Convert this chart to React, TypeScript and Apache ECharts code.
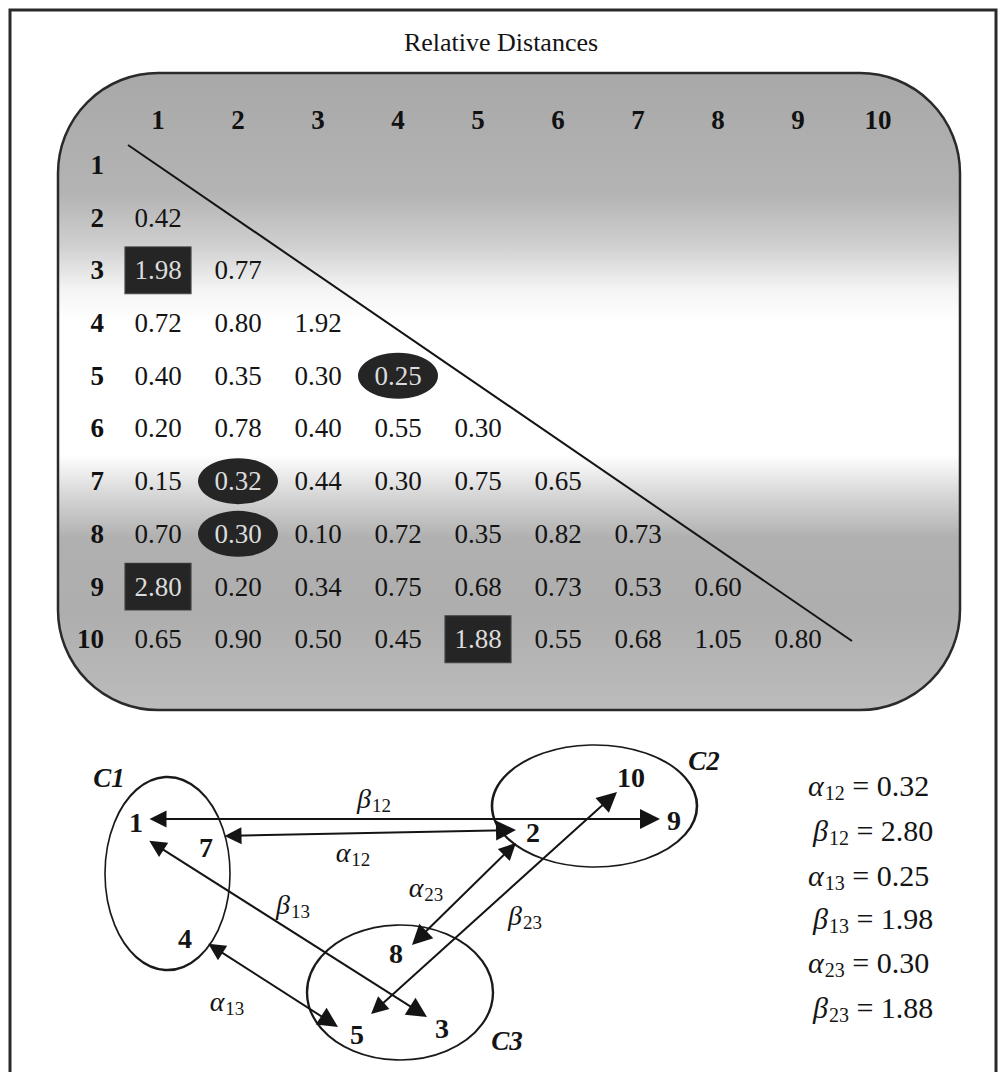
import { useEffect, useRef } from 'react';
import * as echarts from 'echarts';

const SERIF = '"Liberation Serif", "Times New Roman", serif';
const INK = '#141414';

// ---------- matrix data ----------
const colCats = ['1', '2', '3', '4', '5', '6', '7', '8', '9', '10'];
const rowCats = ['1', '2', '3', '4', '5', '6', '7', '8', '9', '10'];
// lower-triangular relative distances, row i holds columns 1..i-1
const distRow2 = [0.42];
const distRow3 = [1.98, 0.77];
const distRow4 = [0.72, 0.8, 1.92];
const distRow5 = [0.4, 0.35, 0.3, 0.25];
const distRow6 = [0.2, 0.78, 0.4, 0.55, 0.3];
const distRow7 = [0.15, 0.32, 0.44, 0.3, 0.75, 0.65];
const distRow8 = [0.7, 0.3, 0.1, 0.72, 0.35, 0.82, 0.73];
const distRow9 = [2.8, 0.2, 0.34, 0.75, 0.68, 0.73, 0.53, 0.6];
const distRow10 = [0.65, 0.9, 0.5, 0.45, 1.88, 0.55, 0.68, 1.05, 0.8];
const distRows = [[], distRow2, distRow3, distRow4, distRow5, distRow6, distRow7, distRow8, distRow9, distRow10];
// highlighted cells [row, col]
const rectCells = [[3, 1], [9, 1], [10, 5]];
const ellipseCells = [[5, 4], [7, 2], [8, 2]];

// ---------- cluster diagram ----------
const nodeNames = ['1', '7', '4', '8', '5', '3', '2', '10', '9'];
const nodeX = [136, 206, 185, 396, 357, 442, 533, 631, 674];
const nodeY = [822, 847, 938, 953, 1034, 1028, 832, 777, 820];

const clusterNames = ['C1', 'C2', 'C3'];
const clusterCx = [167.5, 594.5, 400];
const clusterCy = [873.5, 806, 992.5];
const clusterW = [125, 205, 186];
const clusterH = [193, 122, 135];
const clusterLabelX = [109, 704, 507];
const clusterLabelY = [778, 761, 1041];

const arrowSym = ['β', 'α', 'β', 'α', 'α', 'β'];
const arrowSub = ['12', '12', '13', '13', '23', '23'];
const arrowFrom = [[148, 819], [223, 836], [148, 840], [207, 943], [517, 842], [370, 1015]];
const arrowTo = [[660, 819], [516, 830], [427, 1017], [338, 1027], [412, 945], [617, 792]];
const arrowLabelX = [374, 353, 293, 227, 426, 525];
const arrowLabelY = [798, 852, 904, 1001, 887, 915];

// ---------- equations ----------
const eqSym = ['α', 'β', 'α', 'β', 'α', 'β'];
const eqSub = ['12', '12', '13', '13', '23', '23'];
const eqValues = [0.32, 2.8, 0.25, 1.98, 0.3, 1.88];
const eqX = [808, 813, 808, 813, 808, 813];
const eqY = [785, 830, 875, 918, 962, 1007];

const ARROW_LEN = 20;

function shorten(a: number[], b: number[], d: number) {
  const dx = b[0] - a[0];
  const dy = b[1] - a[1];
  const L = Math.hypot(dx, dy);
  return [
    [a[0] + (dx / L) * d, a[1] + (dy / L) * d],
    [b[0] - (dx / L) * d, b[1] - (dy / L) * d],
  ];
}

function buildOption() {
  const isRect = (r: number, c: number) => rectCells.some((p) => p[0] === r && p[1] === c);
  const isEll = (r: number, c: number) => ellipseCells.some((p) => p[0] === r && p[1] === c);
  const plain: any[] = [];
  const rects: any[] = [];
  const ells: any[] = [];
  distRows.forEach((vals, ri) => {
    vals.forEach((v, ci) => {
      const r = ri + 1;
      const c = ci + 1;
      const item = [colCats[ci], rowCats[ri], v];
      if (isRect(r, c)) rects.push(item);
      else if (isEll(r, c)) ells.push(item);
      else plain.push(item);
    });
  });

  const valueLabel = (color: string) => ({
    show: true,
    position: 'inside',
    formatter: (p: any) => Number(p.value[2]).toFixed(2),
    fontFamily: SERIF,
    fontSize: 27,
    color,
  });

  const subRich = (big: number, small: number) => ({
    g: { fontFamily: SERIF, fontStyle: 'italic', fontSize: big, color: INK, lineHeight: big + 6, verticalAlign: 'middle' },
    s: { fontFamily: SERIF, fontSize: small, color: INK, lineHeight: small, verticalAlign: 'bottom', padding: [0, 0, 0, 1] },
    n: { fontFamily: SERIF, fontSize: big, color: INK, lineHeight: big + 6, verticalAlign: 'middle' },
  });

  const arrows = arrowFrom.map((f, i) => ({ coords: shorten(f, arrowTo[i], ARROW_LEN / 2) }));
  const hidden = { color: 'rgba(0,0,0,0)', opacity: 1 };

  return {
    animation: false,
    backgroundColor: '#ffffff',
    title: {
      text: 'Relative Distances',
      left: 'center',
      top: 24,
      textStyle: { fontFamily: SERIF, fontSize: 26, fontWeight: 'normal', color: INK },
    },
    graphic: [
      {
        type: 'rect',
        z: -2,
        shape: { x: 10, y: 10, width: 986, height: 1100 },
        style: { fill: '#ffffff', stroke: '#2a2a2a', lineWidth: 3 },
      },
      {
        type: 'rect',
        z: -1,
        shape: { x: 58, y: 73, width: 902, height: 637, r: 100 },
        style: {
          stroke: '#2a2a2a',
          lineWidth: 2.5,
          fill: {
            type: 'linear', x: 0, y: 0, x2: 0, y2: 1,
            colorStops: [
              { offset: 0, color: '#a8a8a8' },
              { offset: 0.19, color: '#b4b4b4' },
              { offset: 0.27, color: '#cfcfcf' },
              { offset: 0.34, color: '#f4f4f4' },
              { offset: 0.39, color: '#ffffff' },
              { offset: 0.6, color: '#ffffff' },
              { offset: 0.66, color: '#d8d8d8' },
              { offset: 0.73, color: '#b0b0b0' },
              { offset: 0.85, color: '#aeaeae' },
              { offset: 1, color: '#bcbcbc' },
            ],
          },
        },
      },
      {
        type: 'line',
        z: 10,
        shape: { x1: 128, y1: 145, x2: 852, y2: 641 },
        style: { stroke: '#141414', lineWidth: 2 },
      },
    ],
    grid: [
      { left: 118, top: 138.6, width: 800, height: 527 },
      { left: 0, top: 0, width: 1002, height: 1072 },
    ],
    xAxis: [
      {
        type: 'category',
        gridIndex: 0,
        data: colCats,
        position: 'top',
        axisLine: { show: false },
        axisTick: { show: false },
        splitLine: { show: false },
        axisLabel: { fontFamily: SERIF, fontWeight: 'bold', fontSize: 27, color: '#111', margin: 5 },
      },
      { type: 'value', gridIndex: 1, min: 0, max: 1002, show: false },
    ],
    yAxis: [
      {
        type: 'category',
        gridIndex: 0,
        data: rowCats,
        inverse: true,
        axisLine: { show: false },
        axisTick: { show: false },
        splitLine: { show: false },
        axisLabel: { fontFamily: SERIF, fontWeight: 'bold', fontSize: 27, color: '#111', margin: 14 },
      },
      { type: 'value', gridIndex: 1, min: 0, max: 1072, inverse: true, show: false },
    ],
    series: [
      {
        type: 'scatter',
        xAxisIndex: 0,
        yAxisIndex: 0,
        data: plain,
        symbolSize: 1,
        itemStyle: hidden,
        label: valueLabel(INK),
      },
      {
        type: 'scatter',
        xAxisIndex: 0,
        yAxisIndex: 0,
        data: rects,
        symbol: 'rect',
        symbolSize: [66, 47],
        itemStyle: { color: '#252525', borderColor: '#444', borderWidth: 1, opacity: 1 },
        label: valueLabel('#dcdcdc'),
      },
      {
        type: 'scatter',
        xAxisIndex: 0,
        yAxisIndex: 0,
        data: ells,
        symbol: 'circle',
        symbolSize: [80, 46],
        itemStyle: { color: '#252525', opacity: 1 },
        label: valueLabel('#dcdcdc'),
      },
      // cluster ellipses
      {
        type: 'scatter',
        xAxisIndex: 1,
        yAxisIndex: 1,
        symbol: 'circle',
        data: clusterNames.map((n, i) => ({
          name: n,
          value: [clusterCx[i], clusterCy[i]],
          symbolSize: [clusterW[i], clusterH[i]],
        })),
        itemStyle: { color: 'rgba(0,0,0,0)', borderColor: '#1a1a1a', borderWidth: 2, opacity: 1 },
        z: 1,
      },
      // arrows
      {
        type: 'lines',
        coordinateSystem: 'cartesian2d',
        xAxisIndex: 1,
        yAxisIndex: 1,
        data: arrows,
        symbol: ['triangle', 'triangle'],
        symbolSize: [17, ARROW_LEN],
        lineStyle: { color: '#141414', width: 2, opacity: 1 },
        itemStyle: { color: '#141414' },
        z: 3,
      },
      // node labels
      {
        type: 'scatter',
        xAxisIndex: 1,
        yAxisIndex: 1,
        symbolSize: 1,
        itemStyle: hidden,
        data: nodeNames.map((n, i) => ({ name: n, value: [nodeX[i], nodeY[i]] })),
        label: {
          show: true,
          position: 'inside',
          formatter: '{b}',
          fontFamily: SERIF,
          fontWeight: 'bold',
          fontSize: 28,
          color: INK,
        },
        z: 4,
      },
      // cluster names
      {
        type: 'scatter',
        xAxisIndex: 1,
        yAxisIndex: 1,
        symbolSize: 1,
        itemStyle: hidden,
        data: clusterNames.map((n, i) => ({ name: n, value: [clusterLabelX[i], clusterLabelY[i]] })),
        label: {
          show: true,
          position: 'inside',
          formatter: '{b}',
          fontFamily: SERIF,
          fontWeight: 'bold',
          fontStyle: 'italic',
          fontSize: 27,
          color: INK,
        },
        z: 4,
      },
      // arrow labels
      {
        type: 'scatter',
        xAxisIndex: 1,
        yAxisIndex: 1,
        symbolSize: 1,
        itemStyle: hidden,
        data: arrowSym.map((g, i) => ({ value: [arrowLabelX[i], arrowLabelY[i]], g, s: arrowSub[i] })),
        label: {
          show: true,
          position: 'inside',
          formatter: (p: any) => `{g|${p.data.g}}{s|${p.data.s}}`,
          rich: subRich(28, 19),
        },
        z: 4,
      },
      // equations
      {
        type: 'scatter',
        xAxisIndex: 1,
        yAxisIndex: 1,
        symbolSize: 1,
        itemStyle: hidden,
        data: eqSym.map((g, i) => ({ value: [eqX[i], eqY[i]], g, s: eqSub[i], v: eqValues[i] })),
        label: {
          show: true,
          position: 'inside',
          align: 'left',
          formatter: (p: any) => `{g|${p.data.g}}{s|${p.data.s}}{n| = ${p.data.v.toFixed(2)}}`,
          rich: subRich(30, 20),
        },
        z: 4,
      },
    ],
  };
}

export default function App() {
  const ref = useRef<HTMLDivElement>(null);
  useEffect(() => {
    document.body.style.margin = '0';
    const chart = echarts.init(ref.current as HTMLDivElement, null, { renderer: 'svg' });
    chart.setOption(buildOption() as any);
    return () => chart.dispose();
  }, []);
  return (
    <div
      ref={ref}
      style={{ position: 'absolute', left: 0, top: 0, width: 1002, height: 1072, background: '#fff' }}
    />
  );
}
